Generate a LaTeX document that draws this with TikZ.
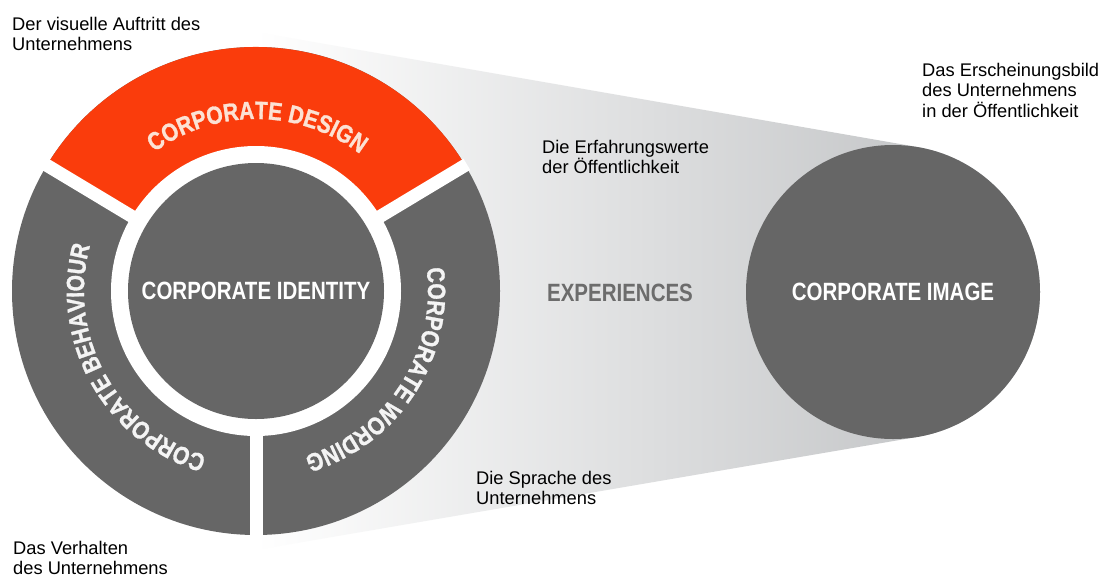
\documentclass[tikz,border=0pt]{standalone}
\usepackage{fontspec}
\setmainfont{Liberation Sans}
\newfontfamily\capfont[FakeStretch=0.82]{Liberation Sans}
\newfontfamily\arcfont[FakeStretch=0.84, FakeBold=1.2]{Liberation Sans}
\usetikzlibrary{decorations.text}
\definecolor{ringgray}{HTML}{666666}
\definecolor{cdred}{HTML}{FA3C0C}
\definecolor{cdtext}{HTML}{FCE2D4}
\definecolor{arctext}{HTML}{F4F4F4}
\definecolor{exgray}{HTML}{6C6C6C}
\definecolor{funR}{HTML}{BABCBE}
\begin{document}
\begin{tikzpicture}[x=1pt,y=1pt,
  note/.style={anchor=north west, align=left, font=\fontsize{18.3}{20.3}\selectfont, inner sep=0pt, text=black},
  big/.style={font=\capfont\bfseries\fontsize{25}{25}\selectfont, inner sep=0pt},
  disc/.style={circle, fill=ringgray, inner sep=0pt},
  gapline/.style={draw=white, line width=13pt},
  arcdeco/.style 2 args={decorate, decoration={text along path, text align=center, text color=#1, text={#2}}}]
\useasboundingbox (0,0) rectangle (1106,-579);
\fill[white] (0,0) rectangle (1106,-579);
\coordinate (rc) at (256,-291);
% funnel
\shade[left color=white, right color=funR] (256,-32) -- (918.5,-147.2) arc[start angle=80, end angle=-80, radius=147] -- (256,-550) -- cycle;
% ring
\fill[ringgray] (rc) circle[radius=244];
\fill[cdred] (rc) -- ++(31:244) arc[start angle=31, end angle=149, radius=244] -- cycle;
\draw[gapline] (rc) -- ++(31:246);
\draw[gapline] (rc) -- ++(149:246);
\draw[gapline] (rc) -- ++(270:246);
\fill[white] (rc) circle[radius=145];
\node[disc, minimum size=256pt, big, text=white] (ci) at (rc) {CORPORATE IDENTITY};
% arc texts
{\arcfont\bfseries\fontsize{25}{25}\selectfont
\path[shift={(rc)}, arcdeco={cdtext}{CORPORATE DESIGN}] (140:172) arc[start angle=140, end angle=39, radius=172];
\path[shift={(rc)}, arcdeco={arctext}{CORPORATE BEHAVIOUR}] (260:172) arc[start angle=260, end angle=158, radius=172];
\path[shift={(rc)}, arcdeco={arctext}{CORPORATE WORDING}] (18:172) arc[start angle=18, end angle=-84, radius=172];
}
% image circle
\node[disc, minimum size=294pt, big, text=white] (img) at (893,-292) {CORPORATE IMAGE};
\node[big, text=exgray] (exp) at (620,-293) {EXPERIENCES};
% notes
\node[note] (n1) at (12,-17) {Der visuelle Auftritt des\\Unternehmens};
\node[note] (n2) at (13,-541) {Das Verhalten\\des Unternehmens};
\node[note] (n3) at (476,-471) {Die Sprache des\\Unternehmens};
\node[note] (n4) at (542,-140) {Die Erfahrungswerte\\der Öffentlichkeit};
\node[note] (n5) at (922,-63) {Das Erscheinungsbild\\des Unternehmens\\in der Öffentlichkeit};
\end{tikzpicture}
\end{document}
